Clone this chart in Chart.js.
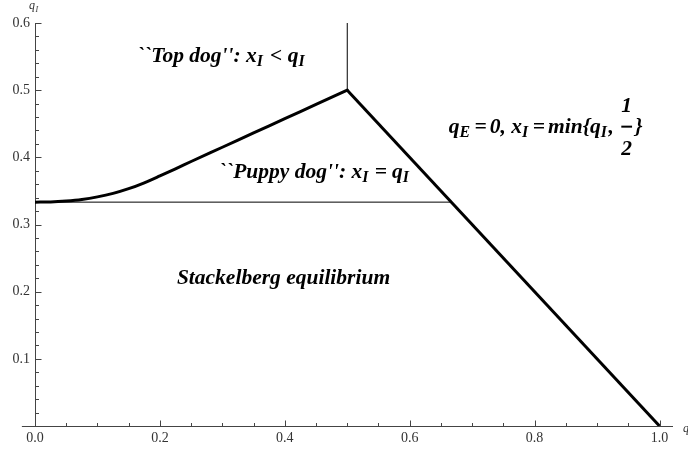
<!DOCTYPE html>
<html><head><meta charset="utf-8">
<script src="https://cdn.jsdelivr.net/npm/chart.js@4"></script>
<style>html,body{margin:0;padding:0;background:#fff}#wrap{width:688px;height:453px}</style>
</head><body><div id="wrap"><canvas id="c" width="688" height="453"></canvas></div>
<script>
// Equilibrium x_I as a function of q_I, rising part (thick curve)
const risingQ = [0, 0.025, 0.05, 0.075, 0.1, 0.125, 0.15, 0.175, 0.2, 0.225, 0.25, 0.3, 0.35, 0.4, 0.45, 0.5];
const risingX = [0.3333, 0.3336, 0.3350, 0.3373, 0.3411, 0.3463, 0.3533, 0.3621, 0.3723, 0.3829, 0.3938, 0.415, 0.4363, 0.4575, 0.4788, 0.5];
// Falling part x_I = 1 - q_I
const fallingQ = [0.5, 1.0];
const fallingX = [0.5, 0.0];
// Horizontal separator at 1/3
const thresholdQ = [0, 0.6667];
const thresholdX = [0.3333, 0.3333];
// Vertical separator at q_I = 1/2
const dividerQ = [0.5, 0.5];
const dividerX = [0.5, 0.6];
// Ticks
const xTicks = [0,0.05,0.1,0.15,0.2,0.25,0.3,0.35,0.4,0.45,0.5,0.55,0.6,0.65,0.7,0.75,0.8,0.85,0.9,0.95,1.0];
const xLabelled = [0,0.2,0.4,0.6,0.8,1.0];
const yTicks = [0,0.02,0.04,0.06,0.08,0.1,0.12,0.14,0.16,0.18,0.2,0.22,0.24,0.26,0.28,0.3,0.32,0.34,0.36,0.38,0.4,0.42,0.44,0.46,0.48,0.5,0.52,0.54,0.56,0.58,0.6];
const yLabelled = [0.1,0.2,0.3,0.4,0.5,0.6];

const pts = (xs, ys) => xs.map((x, i) => ({x, y: ys[i]}));
const isIn = (v, arr) => arr.some(a => Math.abs(a - v) < 1e-9);

const SERIF = '"Liberation Serif", "Times New Roman", serif';
const FS = 21.5;

const regionLabels = [
  {x: 0.1632, y: 0.5419, runs: [{t: "``Top dog'': x"}, {t: 'I', sub: true}, {t: '<', op: 5.5}, {t: 'q'}, {t: 'I', sub: true}]},
  {x: 0.2944, y: 0.369, runs: [{t: "``Puppy dog'': x"}, {t: 'I', sub: true}, {t: '=', op: 5}, {t: 'q'}, {t: 'I', sub: true}]},
  {x: 0.2272, y: 0.2114, runs: [{t: 'Stackelberg equilibrium'}]},
  {x: 0.6624, y: 0.436, runs: [{t: 'q'}, {t: 'E', sub: true}, {t: '=', op: 3}, {t: '0, x'}, {t: 'I', sub: true}, {t: '=', op: 3}, {t: 'min{q'}, {t: 'I', sub: true}, {t: ', '}, {frac: ['1', '2']}, {t: '}'}]}
];

function drawRuns(ctx, runs, x, y, size) {
  for (const r of runs) {
    if (r.frac) {
      ctx.font = `italic bold ${size}px ${SERIF}`;
      const w = Math.max(ctx.measureText(r.frac[0]).width, ctx.measureText(r.frac[1]).width);
      const cx = x + 2 + w / 2;
      ctx.textAlign = 'center';
      ctx.fillText(r.frac[0], cx, y - 21);
      ctx.fillText(r.frac[1], cx, y + 22);
      ctx.fillRect(x + 2, y - 7.5, w, 2);
      ctx.textAlign = 'left';
      x += w + 5;
      continue;
    }
    const s = r.sub ? size * 0.74 : size;
    ctx.font = `italic bold ${s}px ${SERIF}`;
    const pad = r.op || 0;
    x += pad;
    ctx.fillText(r.t, x, y + (r.sub ? size * 0.18 : 0));
    x += ctx.measureText(r.t).width + (r.sub ? 1.5 : 0) + pad;
  }
}

const decor = {
  id: 'decor',
  afterDraw(chart) {
    const {ctx, scales: {x, y}} = chart;
    ctx.save();
    ctx.strokeStyle = '#444';
    ctx.lineWidth = 1;
    const y0 = Math.round(y.getPixelForValue(0)) + 0.5;
    const x0 = Math.round(x.getPixelForValue(0)) + 0.5;
    ctx.beginPath();
    ctx.moveTo(x.getPixelForValue(-0.021), y0);
    ctx.lineTo(x0, y0);
    ctx.stroke();
    ctx.beginPath();
    for (const v of xTicks) {
      if (v === 0) continue;
      const px = Math.round(x.getPixelForValue(v)) + 0.5;
      const len = isIn(v, xLabelled) ? 6 : 3.5;
      ctx.moveTo(px, y0); ctx.lineTo(px, y0 - len);
    }
    for (const v of yTicks) {
      if (v === 0) continue;
      const py = Math.round(y.getPixelForValue(v)) + 0.5;
      const len = isIn(v, yLabelled) ? 6 : 3.5;
      ctx.moveTo(x0, py); ctx.lineTo(x0 + len, py);
    }
    ctx.stroke();
    ctx.fillStyle = '#333';
    ctx.font = `italic 12px ${SERIF}`;
    ctx.fillText('q', 29, 9);
    ctx.font = `italic 8px ${SERIF}`;
    ctx.fillText('I', 35.5, 12);
    ctx.font = `italic 12px ${SERIF}`;
    ctx.fillText('q', 683, 432);
    ctx.fillStyle = '#000';
    ctx.textBaseline = 'alphabetic';
    ctx.textAlign = 'left';
    for (const l of regionLabels) {
      drawRuns(ctx, l.runs, x.getPixelForValue(l.x), y.getPixelForValue(l.y), FS);
    }
    ctx.restore();
  }
};

new Chart(document.getElementById('c'), {
  type: 'line',
  data: {
    datasets: [
      {data: pts(thresholdQ, thresholdX), borderColor: '#000', borderWidth: 1, pointRadius: 0, tension: 0},
      {data: pts(dividerQ, dividerX), borderColor: '#000', borderWidth: 1, pointRadius: 0, tension: 0},
      {data: pts(risingQ, risingX), borderColor: '#000', borderWidth: 3, pointRadius: 0, cubicInterpolationMode: 'monotone', borderCapStyle: 'round'},
      {data: pts(fallingQ, fallingX), borderColor: '#000', borderWidth: 3, pointRadius: 0, tension: 0, borderCapStyle: 'butt'}
    ]
  },
  options: {
    responsive: false,
    animation: false,
    events: [],
    layout: {padding: {top: 23, right: 16, left: 0, bottom: 0}},
    plugins: {legend: {display: false}, tooltip: {enabled: false}},
    scales: {
      x: {
        type: 'linear', min: 0, max: 1.02,
        afterBuildTicks: s => { s.ticks = xTicks.map(v => ({value: v})); },
        afterFit: s => { s.height = 27; },
        ticks: {autoSkip: false, maxRotation: 0, padding: 4, color: '#333',
          font: {family: SERIF, size: 14},
          callback: v => isIn(v, xLabelled) ? v.toFixed(1) : ''},
        grid: {display: true, drawOnChartArea: false, drawTicks: false},
        border: {display: true, color: '#444', width: 1}
      },
      y: {
        type: 'linear', min: 0, max: 0.6,
        afterBuildTicks: s => { s.ticks = yTicks.map(v => ({value: v})); },
        afterFit: s => { s.width = 35; },
        ticks: {autoSkip: false, padding: 5, color: '#333',
          font: {family: SERIF, size: 14},
          callback: v => isIn(v, yLabelled) ? v.toFixed(1) : ''},
        grid: {display: true, drawOnChartArea: false, drawTicks: false},
        border: {display: true, color: '#444', width: 1}
      }
    }
  },
  plugins: [decor]
});
</script>
</body></html>
